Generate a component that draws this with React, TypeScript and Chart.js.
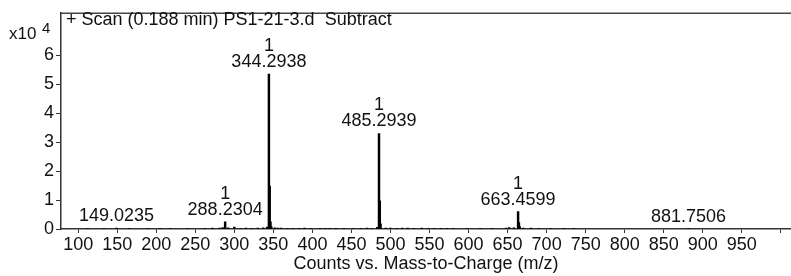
import React, { useEffect, useRef } from "react";
import { Chart, registerables } from "chart.js";

Chart.register(...registerables);

// Stick spectrum: m/z positions and counts
const peakMz = [
  112, 133, 149.0235, 165, 190, 205, 218, 240, 262, 272, 281, 285, 288.2304, 292, 300, 308, 315, 322, 330, 337, 342,
  344.2938, 345.3, 346.3, 347.3, 352, 356, 360, 368, 375, 383, 390, 398, 410, 417, 422, 430, 440, 452, 462, 470, 476, 483,
  485.2939, 486.3, 487.3, 494, 500, 508, 515, 522, 530, 540, 548, 556, 565, 572, 580, 598, 615, 630, 648, 652, 658,
  663.4599, 664.5, 665.5, 670, 680, 690, 705, 722, 735, 881.7506,
];
const peakCounts = [
  100, 250, 300, 150, 200, 150, 120, 150, 150, 300, 300, 500, 2500, 400, 700, 250, 300, 250, 300, 400, 700,
  53500, 14800, 2500, 800, 400, 300, 300, 200, 250, 200, 300, 200, 200, 250, 250, 200, 200, 200, 200, 300, 250, 600,
  33000, 9700, 1800, 300, 300, 250, 300, 300, 200, 300, 250, 200, 250, 200, 200, 200, 200, 200, 350, 500, 400,
  6000, 2200, 800, 300, 300, 200, 200, 200, 200, 150,
];

// Annotated peaks
const labelMz = [149.0235, 288.2304, 344.2938, 485.2939, 663.4599, 881.7506];
const labelText = ["149.0235", "288.2304", "344.2938", "485.2939", "663.4599", "881.7506"];
const labelCharge = ["", "1", "1", "1", "1", ""];
const labelCounts = [300, 2500, 53500, 33000, 6000, 150];

const xTickValues = [100, 150, 200, 250, 300, 350, 400, 450, 500, 550, 600, 650, 700, 750, 800, 850, 900, 950, 1000];
const xTickLabels = ["100", "150", "200", "250", "300", "350", "400", "450", "500", "550", "600", "650", "700", "750", "800", "850", "900", "950", ""];
const yTickValues = [0, 10000, 20000, 30000, 40000, 50000, 60000];
const yTickLabels = ["0", "1", "2", "3", "4", "5", "6"];

const scanTitle = "+ Scan (0.188 min) PS1-21-3.d  Subtract";
const xAxisTitle = "Counts vs. Mass-to-Charge (m/z)";

const FONT = "'Liberation Sans', Arial, sans-serif";

export default function App() {
  const ref = useRef<HTMLCanvasElement | null>(null);

  useEffect(() => {
    if (!ref.current) return;
    const overlay = {
      id: "overlay",
      afterDraw(chart: any) {
        const { ctx, chartArea, scales } = chart;
        const x = scales.x;
        const y = scales.y;
        ctx.save();
        // top frame line
        ctx.strokeStyle = "#444";
        ctx.lineWidth = 1.5;
        ctx.beginPath();
        ctx.moveTo(chartArea.left, chartArea.top + 0.5);
        ctx.lineTo(chartArea.right, chartArea.top + 0.5);
        ctx.stroke();

        ctx.fillStyle = "#111";
        ctx.textBaseline = "alphabetic";
        ctx.textAlign = "left";
        ctx.font = `18px ${FONT}`;
        ctx.fillText(scanTitle, chartArea.left + 5, 25);
        ctx.font = `17px ${FONT}`;
        ctx.fillText("x10", 9, 39);
        ctx.font = `15px ${FONT}`;
        ctx.fillText("4", 42, 33);

        ctx.font = `18px ${FONT}`;
        ctx.textAlign = "center";
        for (let i = 0; i < labelMz.length; i++) {
          const px = x.getPixelForValue(labelMz[i]);
          const py = y.getPixelForValue(labelCounts[i]) - 7;
          ctx.fillText(labelText[i], px, py);
          if (labelCharge[i]) ctx.fillText(labelCharge[i], px, py - 16);
        }
        ctx.restore();
      },
    };

    const chart = new Chart(ref.current, {
      type: "bar",
      data: {
        datasets: [
          {
            data: peakMz.map((m, i) => ({ x: m, y: peakCounts[i] })),
            backgroundColor: "#000",
            borderWidth: 0,
            barThickness: 1.8,
          } as any,
        ],
      },
      options: {
        animation: false,
        responsive: false,
        layout: { padding: { top: 7, right: 0, left: 0, bottom: 0 } },
        plugins: { legend: { display: false }, tooltip: { enabled: false }, title: { display: false } },
        scales: {
          x: {
            type: "linear",
            min: 78,
            max: 1013,
            offset: false,
            grid: { drawOnChartArea: false, drawTicks: true, tickLength: 4, color: "#333", offset: false },
            border: { display: true, color: "#333", width: 1.5 },
            afterBuildTicks: (s: any) => {
              s.ticks = xTickValues.map((v) => ({ value: v }));
            },
            afterFit: (s: any) => {
              s.height = 47;
            },
            ticks: {
              autoSkip: false,
              maxRotation: 0,
              padding: 1,
              color: "#111",
              font: { family: FONT, size: 18 },
              callback: (v: any) => {
                const i = xTickValues.indexOf(Number(v));
                return i >= 0 ? xTickLabels[i] : "";
              },
            },
            title: {
              display: true,
              text: xAxisTitle,
              color: "#111",
              font: { family: FONT, size: 18 },
              padding: { top: 0, bottom: 1 },
            },
          },
          y: {
            min: 0,
            max: 74700,
            grid: { drawOnChartArea: false, drawTicks: true, tickLength: 5, color: "#333" },
            border: { display: true, color: "#333", width: 1.5 },
            afterBuildTicks: (s: any) => {
              s.ticks = yTickValues.map((v) => ({ value: v }));
            },
            afterFit: (s: any) => {
              s.width = 61;
            },
            ticks: {
              padding: 2,
              color: "#111",
              font: { family: FONT, size: 18 },
              callback: (v: any) => {
                const i = yTickValues.indexOf(Number(v));
                return i >= 0 ? yTickLabels[i] : "";
              },
            },
          },
        },
      },
      plugins: [overlay],
    });
    return () => chart.destroy();
  }, []);

  return (
    <div style={{ position: "fixed", left: 0, top: 0, width: 791, height: 276, background: "#fff" }}>
      <canvas ref={ref} width={791} height={276} style={{ width: 791, height: 276 }} />
    </div>
  );
}
